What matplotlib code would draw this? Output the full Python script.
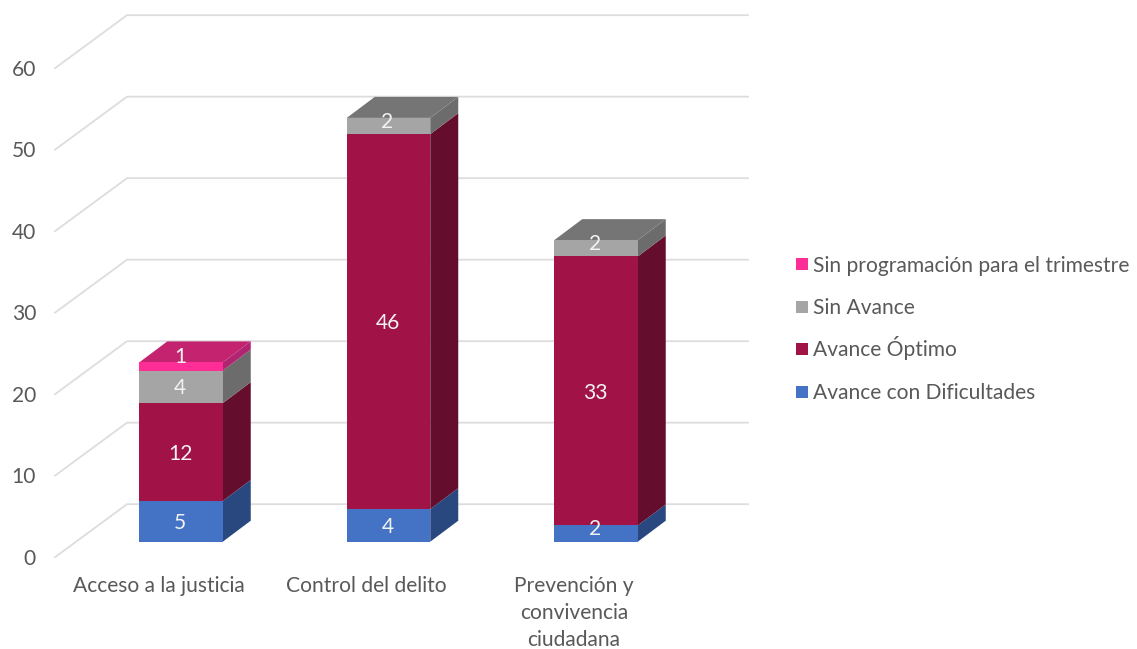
import numpy as np
import matplotlib
matplotlib.use('Agg')
import matplotlib.pyplot as plt
from matplotlib.patches import Polygon, Rectangle

plt.rcParams['font.family'] = ['Lato', 'DejaVu Sans']

categories = ['Acceso a la justicia', 'Control del delito', 'Prevención y\nconvivencia\nciudadana']
series_names = ['Avance con Dificultades', 'Avance Óptimo', 'Sin Avance', 'Sin programación para el trimestre']
dificultades = [5, 4, 2]
optimo = [12, 46, 33]
sin_avance = [4, 2, 2]
sin_programacion = [1, 0, 0]
y_ticks = [0, 10, 20, 30, 40, 50, 60]

front_colors = ['#4472C4', '#A11246', '#A5A5A5', '#FF2E97']
side_colors = ['#2A4880', '#650D2C', '#6C6C6C', '#B02470']
top_colors = ['#33599C', '#80103A', '#757575', '#C4246F']

TEXT = '#595959'
GRID = '#DDDDDD'
FS = 15.1

# pixel calibration: one category = 207.5 px, one unit = 8.15 px
PX_X = 207.5
PX_Y = 8.15
bar_w = 83.5 / PX_X
depth_x = 28 / PX_X
depth_y = 21 / PX_Y
wall_x = 72 / PX_X
wall_y = 53 / PX_Y
left_x = (55 - 181) / PX_X
right_x = (748 - 181) / PX_X
front_off = -1.9


def px_x(p):
    return (p - 181) / PX_X


def px_y(p):
    return (541.7 - p) / PX_Y


fig = plt.figure(figsize=(11.37, 6.49), dpi=100)
ax = fig.add_axes([0, 0, 1, 1])
ax.set_xlim(px_x(0), px_x(1137))
ax.set_ylim(px_y(649), px_y(0))
ax.axis('off')

# back wall grid and the left wall diagonals
for t in y_ticks:
    y0 = t + front_off
    ax.plot([left_x, left_x + wall_x, right_x], [y0, y0 + wall_y, y0 + wall_y],
            color=GRID, lw=1.3, zorder=1, solid_joinstyle='miter')
    ax.text(px_x(36), y0 - 0.2, str(t), ha='right', va='center', fontsize=FS, color=TEXT)

x = np.arange(len(categories))
stack = [dificultades, optimo, sin_avance, sin_programacion]
bottom = np.zeros(len(categories))

for s, vals in enumerate(stack):
    vals = np.array(vals, dtype=float)
    ax.bar(x, vals, bar_w, bottom=bottom, color=front_colors[s], zorder=3, linewidth=0)
    for i, v in enumerate(vals):
        if v == 0:
            continue
        b = bottom[i]
        xr = x[i] + bar_w / 2
        xl = x[i] - bar_w / 2
        ax.add_patch(Polygon([(xr, b), (xr + depth_x, b + depth_y),
                              (xr + depth_x, b + v + depth_y), (xr, b + v)],
                             closed=True, fc=side_colors[s], ec='none', zorder=2.9))
        # only the highest segment shows a top face
        rest = sum(st[i] for st in stack[s + 1:])
        if rest == 0:
            ax.add_patch(Polygon([(xl, b + v), (xr, b + v), (xr + depth_x, b + v + depth_y),
                                  (xl + depth_x, b + v + depth_y)],
                                 closed=True, fc=top_colors[s], ec='none', zorder=2.9))
        # thin segments have their label pushed up
        shift = max(0, 3 - v) * 0.7
        ax.text(x[i] - 1 / PX_X, b + v / 2 + shift - 0.2, f'{int(v)}', ha='center', va='center',
                fontsize=FS, color='#F2F2F2', zorder=5)
    bottom += vals

for i, name in enumerate(categories):
    ax.text(x[i] - 22 / PX_X, px_y(576), name, ha='center', va='top',
            fontsize=FS, color=TEXT, linespacing=1.44)

# legend rows, drawn by hand so the accent in Óptimo does not shift the spacing
legend_rows = [391.5, 349, 306.5, 264]
for s, row in enumerate(legend_rows):
    ax.add_patch(Rectangle((px_x(796), px_y(row + 6)), 12 / PX_X, 12 / PX_Y,
                           fc=front_colors[s], ec='none'))
    ax.text(px_x(813), px_y(row + 7.5), series_names[s], ha='left', va='baseline',
            fontsize=FS, color=TEXT)

fig.savefig('out.png', dpi=100)
